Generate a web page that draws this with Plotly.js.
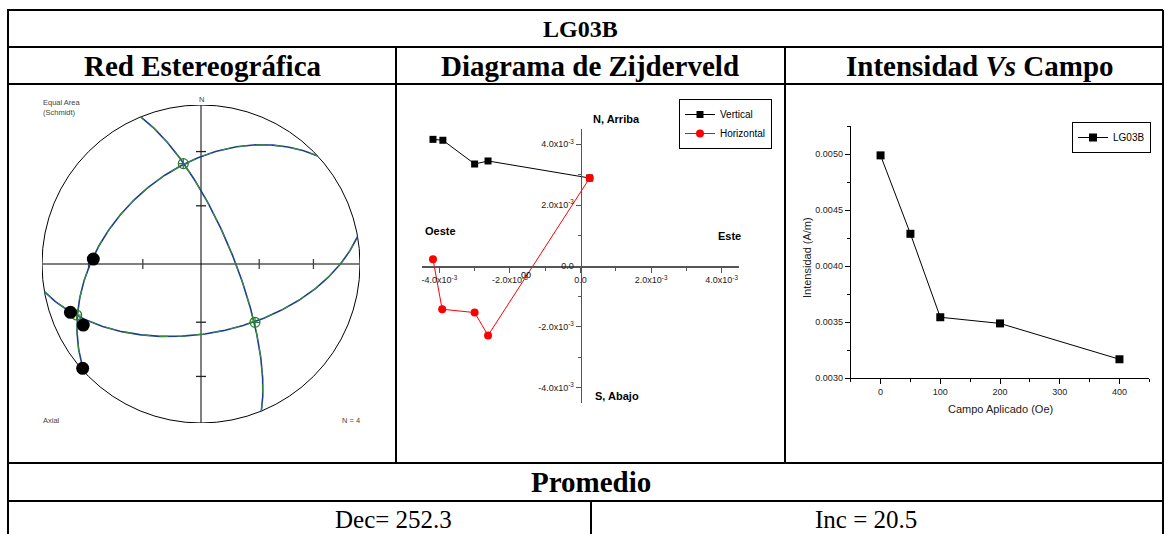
<!DOCTYPE html>
<html><head><meta charset="utf-8">
<script src="https://cdn.plot.ly/plotly-3.0.1.min.js"></script>
<style>html,body{margin:0;padding:0;background:#fff;} #chart{width:1165px;height:534px;}</style>
</head><body><div id="chart"></div>
<script>
// ---------------- DATA ----------------
const titleText = 'LG03B';
const panelTitles = ['Red Estereográfica', 'Diagrama de Zijderveld', 'Intensidad <i>Vs</i> Campo'];
const summaryTitle = 'Promedio';
const summaryDec = 'Dec= 252.3';
const summaryInc = 'Inc = 20.5';

// Stereonet: directions (declination, inclination) - lower hemisphere, equal area
const stereoDec = [272.6, 249.7, 242.6, 228.6];
const stereoInc = [32.7, 13.5, 17.7, 0.9];
// principal axes (trend, plunge); each one is the pole of a great circle
const axisTrend = [350.0, 137.2, 247.7];
const axisPlunge = [36.1, 48.6, 16.6];
const stereoTickAngles = [30, 60];

// Zijderveld
const zijVertEast = [-4.18e-3, -3.90e-3, -3.00e-3, -2.62e-3, 0.26e-3];
const zijVertUp   = [4.16e-3, 4.13e-3, 3.35e-3, 3.45e-3, 2.89e-3];
const zijHorEast  = [-4.18e-3, -3.92e-3, -3.00e-3, -2.62e-3, 0.26e-3];
const zijHorNorth = [0.22e-3, -1.42e-3, -1.53e-3, -2.28e-3, 2.89e-3];
const zijTickVals = [-4e-3, -2e-3, 0, 2e-3, 4e-3];
const zijTickText = ['-4.0x10<sup>-3</sup>', '-2.0x10<sup>-3</sup>', '0.0', '2.0x10<sup>-3</sup>', '4.0x10<sup>-3</sup>'];

// Intensity vs field
const campo = [0, 50, 100, 200, 400];
const intensidad = [0.00499, 0.00429, 0.003545, 0.00349, 0.00317];
const campoTicks = [0, 100, 200, 300, 400];
const intTicks = [0.0030, 0.0035, 0.0040, 0.0045, 0.0050];

// ---------------- HELPERS ----------------
const W = 1165, H = 534;
const px = x => x / W;
const py = y => 1 - y / H;
const D2R = Math.PI / 180;
function vec(t, p) { const T = t * D2R, P = p * D2R; return [Math.cos(P) * Math.cos(T), Math.cos(P) * Math.sin(T), Math.sin(P)]; }
function cross(a, b) { return [a[1]*b[2]-a[2]*b[1], a[2]*b[0]-a[0]*b[2], a[0]*b[1]-a[1]*b[0]]; }
function norm(a) { const l = Math.hypot(a[0], a[1], a[2]); return a.map(v => v / l); }
function proj(v) {
  let [n, e, d] = v; if (d < 0) { n = -n; e = -e; d = -d; }
  const h = Math.hypot(n, e); const r = Math.sqrt(Math.max(0, 1 - d));
  if (h < 1e-12) return [0, 0];
  return [r * e / h, r * n / h];
}

const SANS = 'Liberation Sans, Arial, sans-serif';
const SERIF = 'Liberation Serif, Times New Roman, serif';

const traces = [];

// ---------- Stereonet ----------
for (let k = 0; k < axisTrend.length; k++) {
  const p = vec(axisTrend[k], axisPlunge[k]);
  const s = norm([p[1], -p[0], 0]);
  let d = norm(cross(p, s)); if (d[2] < 0) d = d.map(v => -v);
  const gx = [], gy = [];
  for (let i = 0; i <= 180; i++) {
    const t = i * D2R;
    const v = [0, 1, 2].map(j => Math.cos(t) * s[j] + Math.sin(t) * d[j]);
    const q = proj(v); gx.push(q[0]); gy.push(q[1]);
  }
  traces.push({x: gx, y: gy, xaxis: 'x4', yaxis: 'y4', mode: 'lines', showlegend: false, hoverinfo: 'skip',
    line: {color: '#1d3f8c', width: 1.6}});
  traces.push({x: gx, y: gy, xaxis: 'x4', yaxis: 'y4', mode: 'lines', showlegend: false, hoverinfo: 'skip',
    line: {color: '#3c8c3c', width: 1.2, dash: 'dash'}});
}
const axP = axisTrend.map((t, i) => proj(vec(t, axisPlunge[i])));
traces.push({x: axP.map(q => q[0]), y: axP.map(q => q[1]), xaxis: 'x4', yaxis: 'y4', mode: 'markers', showlegend: false,
  cliponaxis: false, marker: {symbol: 'circle-cross-open', size: 10, color: '#2a7f2a', line: {width: 1.2}}});
const dP = stereoDec.map((t, i) => proj(vec(t, stereoInc[i])));
traces.push({x: dP.map(q => q[0]), y: dP.map(q => q[1]), xaxis: 'x4', yaxis: 'y4', mode: 'markers', showlegend: false,
  cliponaxis: false, marker: {symbol: 'circle', size: 13, color: '#000'}});

// ---------- Zijderveld ----------
traces.push({x: zijVertEast, y: zijVertUp, xaxis: 'x2', yaxis: 'y2', mode: 'lines+markers', name: 'Vertical',
  legend: 'legend', cliponaxis: false,
  line: {color: '#000', width: 1}, marker: {symbol: 'square', size: 7, color: '#000'}});
traces.push({x: zijHorEast, y: zijHorNorth, xaxis: 'x2', yaxis: 'y2', mode: 'lines+markers', name: 'Horizontal',
  legend: 'legend', cliponaxis: false,
  line: {color: '#ff0000', width: 1}, marker: {symbol: 'circle', size: 8, color: '#ff0000'}});

// ---------- Intensity ----------
traces.push({x: campo, y: intensidad, xaxis: 'x3', yaxis: 'y3', mode: 'lines+markers', name: 'LG03B',
  legend: 'legend2', cliponaxis: false,
  line: {color: '#000', width: 1}, marker: {symbol: 'square', size: 8, color: '#000'}});

// ---------------- SHAPES ----------------
const shapes = [];
const tableLine = {color: '#000', width: 2};
[10, 47, 84, 463, 501].forEach(y => shapes.push({type: 'line', xref: 'paper', yref: 'paper',
  x0: px(7), x1: px(1163), y0: py(y), y1: py(y), line: tableLine}));
[[8, 10, 534], [1163, 10, 534], [396, 47, 463], [785, 47, 463], [591, 501, 534]].forEach(v =>
  shapes.push({type: 'line', xref: 'paper', yref: 'paper', x0: px(v[0]), x1: px(v[0]), y0: py(v[1]), y1: py(v[2]), line: tableLine}));

// stereonet primitive & cross
shapes.push({type: 'circle', xref: 'x4', yref: 'y4', x0: -1, x1: 1, y0: -1, y1: 1, line: {color: '#000', width: 1}, layer: 'below'});
shapes.push({type: 'line', xref: 'x4', yref: 'y4', x0: -1, x1: 1, y0: 0, y1: 0, line: {color: '#555', width: 1.6}, layer: 'below'});
shapes.push({type: 'line', xref: 'x4', yref: 'y4', x0: 0, x1: 0, y0: -1.01, y1: 1, line: {color: '#000', width: 1}, layer: 'below'});
const hl = 5 / 159;
stereoTickAngles.forEach(a => {
  const r = Math.SQRT2 * Math.sin(a / 2 * D2R);
  [-r, r].forEach(v => {
    shapes.push({type: 'line', xref: 'x4', yref: 'y4', x0: v, x1: v, y0: -hl, y1: hl, line: {color: '#444', width: 1.3}, layer: 'below'});
    shapes.push({type: 'line', xref: 'x4', yref: 'y4', x0: -hl, x1: hl, y0: v, y1: v, line: {color: '#222', width: 1.3}, layer: 'below'});
  });
});

// ---------------- ANNOTATIONS ----------------
const ann = [];
function txt(text, x, y, size, opts) {
  ann.push(Object.assign({text, xref: 'paper', yref: 'paper', x: px(x), y: py(y), showarrow: false,
    xanchor: 'center', yanchor: 'middle', font: {family: SERIF, size, color: '#000'}}, opts || {}));
}
txt('<b>' + titleText + '</b>', 580, 29, 24);
txt('<b>' + panelTitles[0] + '</b>', 203, 66, 29);
txt('<b>' + panelTitles[1] + '</b>', 590, 66, 29);
txt('<b>' + panelTitles[2] + '</b>', 980, 66, 29);
txt('<b>' + summaryTitle + '</b>', 591, 482, 29);
txt(summaryDec, 393, 519, 25);
txt(summaryInc, 866, 519, 25);

const small = {family: SANS, size: 7.5, color: '#444'};
txt('Equal Area<br>(Schmidt)', 41, 96, 7.5, {xanchor: 'left', yanchor: 'top', align: 'left', font: small});
txt('N', 201.5, 99, 7.5, {font: small});
txt('Axial', 41, 420, 7.5, {xanchor: 'left', font: small});
txt('N = 4', 362, 420, 7.5, {xanchor: 'right', font: small});

const zlab = {family: SANS, size: 11, color: '#000'};
txt('<b>N, Arriba</b>', 616, 119, 11, {font: zlab});
txt('<b>Oeste</b>', 440, 231, 11, {font: zlab});
txt('<b>Este</b>', 729, 236, 11, {font: zlab});
txt('<b>S, Abajo</b>', 617, 396, 11, {font: zlab});
txt('00', 526, 275, 9, {font: {family: SANS, size: 9, color: '#000'}});

const ilab = {family: SANS, size: 11, color: '#222'};
txt('Intensidad (A/m)', 807, 258, 11, {font: ilab, textangle: -90});
txt('Campo Aplicado (Oe)', 1000, 409, 11, {font: ilab});

// ---------------- LAYOUT ----------------
const tickF = {family: SANS, size: 9, color: '#222'};
const layout = {
  width: W, height: H, margin: {l: 0, r: 0, t: 0, b: 0, pad: 0},
  paper_bgcolor: '#fff', plot_bgcolor: 'rgba(0,0,0,0)',
  showlegend: true,
  // Zijderveld
  xaxis2: {domain: [px(421.7), px(739.3)], range: [-4.5e-3, 4.5e-3], anchor: 'free', position: py(266),
    showline: true, linecolor: '#555', linewidth: 1.5, ticks: 'outside', ticklen: 5, tickcolor: '#555', tickwidth: 1,
    tickmode: 'array', tickvals: zijTickVals, ticktext: zijTickText, tickfont: tickF,
    minor: {tickmode: 'linear', tick0: 0, dtick: 1e-3, ticks: 'outside', ticklen: 3, tickcolor: '#555', showgrid: false},
    showgrid: false, zeroline: false, fixedrange: true},
  yaxis2: {domain: [py(403), py(129)], range: [-4.5e-3, 4.5e-3], anchor: 'free', position: px(580.6),
    showline: true, linecolor: '#555', linewidth: 1.5, ticks: 'outside', ticklen: 5, tickcolor: '#555', tickwidth: 1,
    tickmode: 'array', tickvals: zijTickVals, ticktext: zijTickText, tickfont: tickF,
    minor: {tickmode: 'linear', tick0: 0, dtick: 1e-3, ticks: 'outside', ticklen: 3, tickcolor: '#555', showgrid: false},
    showgrid: false, zeroline: false, fixedrange: true},
  // Intensity
  xaxis3: {domain: [px(850.7), px(1149.3)], range: [-50, 450], anchor: 'y3',
    showline: true, linecolor: '#000', linewidth: 1, ticks: 'outside', ticklen: 5, tickcolor: '#000',
    tickmode: 'array', tickvals: campoTicks, tickfont: tickF,
    minor: {tickmode: 'linear', tick0: 0, dtick: 50, ticks: 'outside', ticklen: 3, tickcolor: '#000', showgrid: false},
    showgrid: false, zeroline: false, fixedrange: true},
  yaxis3: {domain: [py(378.3), py(125.7)], range: [0.0030, 0.005255], anchor: 'x3',
    showline: true, linecolor: '#000', linewidth: 1, ticks: 'outside', ticklen: 5, tickcolor: '#000',
    tickmode: 'array', tickvals: intTicks, tickformat: '.4f', tickfont: tickF,
    minor: {tickmode: 'linear', tick0: 0.0030, dtick: 0.00025, ticks: 'outside', ticklen: 3, tickcolor: '#000', showgrid: false},
    showgrid: false, zeroline: false, fixedrange: true},
  // Stereonet
  xaxis4: {domain: [px(42), px(360)], range: [-1, 1], visible: false, fixedrange: true, anchor: 'y4'},
  yaxis4: {domain: [py(423), py(105)], range: [-1, 1], visible: false, fixedrange: true, anchor: 'x4'},
  legend: {x: px(679), y: py(99), xanchor: 'left', yanchor: 'top', bgcolor: '#fff', bordercolor: '#000', borderwidth: 1,
    font: {family: SANS, size: 10, color: '#000'}, itemwidth: 30, tracegroupgap: 0},
  legend2: {x: px(1072), y: py(122), xanchor: 'left', yanchor: 'top', bgcolor: '#fff', bordercolor: '#000', borderwidth: 1,
    font: {family: SANS, size: 10, color: '#000'}, itemwidth: 30, tracegroupgap: 0},
  shapes, annotations: ann
};
Plotly.newPlot('chart', traces, layout, {displayModeBar: false, staticPlot: true});
</script></body></html>
